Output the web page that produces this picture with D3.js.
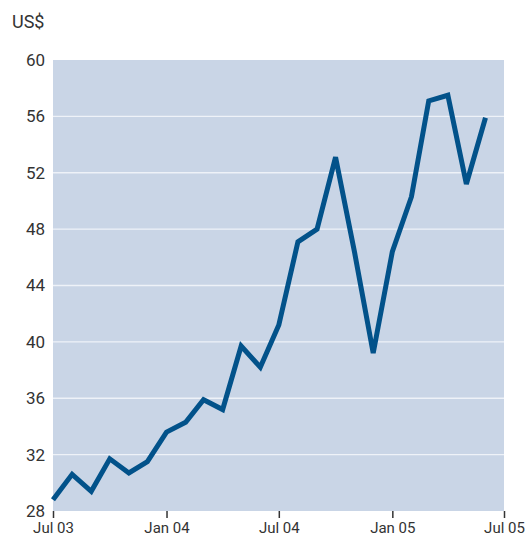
<!DOCTYPE html>
<html>
<head>
<meta charset="utf-8">
<script src="https://cdn.jsdelivr.net/npm/d3@7"></script>
<style>
  html, body { margin: 0; padding: 0; background: #fff; }
  svg { display: block; }
  text { font-family: Roboto, "Open Sans", sans-serif; fill: #333; }
</style>
</head>
<body>
<svg id="chart" width="530" height="538"></svg>
<script>
// Monthly price, Jul 2003 – Jun 2005 (US$)
const months = [
  "2003-07","2003-08","2003-09","2003-10","2003-11","2003-12",
  "2004-01","2004-02","2004-03","2004-04","2004-05","2004-06",
  "2004-07","2004-08","2004-09","2004-10","2004-11","2004-12",
  "2005-01","2005-02","2005-03","2005-04","2005-05","2005-06"
];
const prices = [
  28.8, 30.6, 29.4, 31.7, 30.7, 31.5,
  33.6, 34.3, 35.9, 35.2, 39.7, 38.2,
  41.2, 47.1, 48.0, 53.1, 46.3, 39.2,
  46.4, 50.3, 57.1, 57.5, 51.2, 55.9
];
const yTicks = [28, 32, 36, 40, 44, 48, 52, 56, 60];
const xTickLabels = ["2003-07", "2004-01", "2004-07", "2005-01", "2005-07"];
const unitLabel = "US$";

const parse = d3.timeParse("%Y-%m");
const data = months.map((m, i) => ({ date: parse(m), value: prices[i] }));

const svg = d3.select("#chart");
const m = { left: 53, right: 26, top: 60, bottom: 27 };
const W = 530, H = 538;

const x = d3.scaleTime()
  .domain([parse("2003-07"), parse("2005-07")])
  .range([m.left, W - m.right]);
const y = d3.scaleLinear()
  .domain([28, 60])
  .range([H - m.bottom, m.top]);

// plot background
svg.append("rect")
  .attr("x", m.left).attr("y", m.top)
  .attr("width", W - m.left - m.right)
  .attr("height", H - m.top - m.bottom)
  .attr("fill", "#c9d5e6");

// horizontal gridlines
svg.append("g")
  .selectAll("line")
  .data(yTicks.slice(1, -1))
  .join("line")
  .attr("x1", m.left).attr("x2", W - m.right)
  .attr("y1", d => y(d)).attr("y2", d => y(d))
  .attr("stroke", "#eef2f8").attr("stroke-width", 1.3);

// y axis labels
const yAxis = d3.axisLeft(y).tickValues(yTicks).tickSize(0).tickPadding(8);
svg.append("g")
  .attr("transform", `translate(${m.left},0)`)
  .call(yAxis)
  .call(g => g.select(".domain").remove())
  .call(g => g.selectAll("text")
    .style("font-size", "17px").style("font-weight", 400)
    .attr("fill", "#3a3a3a"));

// x axis
const xAxis = d3.axisBottom(x)
  .tickValues(xTickLabels.map(parse))
  .tickFormat(d3.timeFormat("%b %y"))
  .tickSize(7).tickPadding(4);
svg.append("g")
  .attr("transform", `translate(0,${H - m.bottom})`)
  .call(xAxis)
  .call(g => g.select(".domain").remove())
  .call(g => g.selectAll("line").attr("stroke", "#333").attr("stroke-width", 1.5))
  .call(g => g.selectAll("text")
    .style("font-size", "15px").style("font-weight", 400)
    .attr("fill", "#3a3a3a"));

// unit label
svg.append("text")
  .attr("x", 12).attr("y", 28)
  .style("font-size", "18px").style("font-weight", 400)
  .attr("fill", "#3a3a3a")
  .text(unitLabel);

// price line
const line = d3.line()
  .x(d => x(d.date))
  .y(d => y(d.value));
svg.append("path")
  .datum(data)
  .attr("d", line)
  .attr("fill", "none")
  .attr("stroke", "#02528a")
  .attr("stroke-width", 5)
  .attr("stroke-linejoin", "miter")
  .attr("stroke-linecap", "butt");
</script>
</body>
</html>
